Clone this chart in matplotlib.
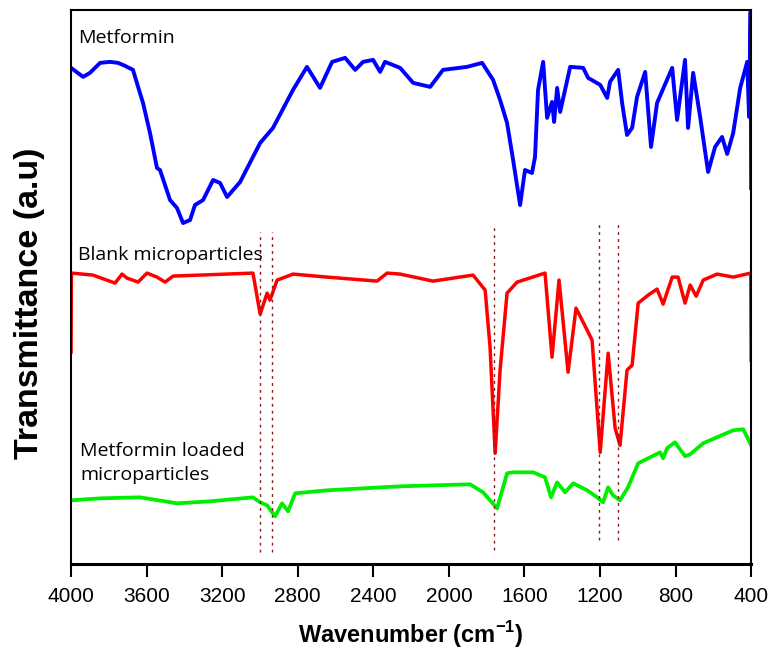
import matplotlib
matplotlib.use("Agg")
from matplotlib import pyplot as plt

# --- Data (wavenumber in cm-1, transmittance a.u.) ---
metforminWn = [4000, 3936, 3900, 3846, 3794, 3751, 3714, 3672, 3645, 3619,
               3582, 3545, 3529, 3476, 3439, 3407, 3370, 3344, 3301, 3248,
               3211, 3174, 3105, 2999, 2931, 2825, 2751, 2682, 2618, 2549,
               2496, 2454, 2401, 2364, 2338, 2258, 2189, 2099, 2031, 1904,
               1824, 1766, 1729, 1692, 1660, 1623, 1597, 1560, 1544, 1528,
               1501, 1480, 1454, 1443, 1427, 1411, 1358, 1289, 1263, 1199,
               1162, 1147, 1104, 1083, 1057, 1030, 1004, 961, 930, 898,
               818, 792, 750, 734, 707, 670, 628, 591, 554, 527,
               495, 458, 421, 411, 403, 400]
metforminT = [496, 487, 491, 501, 502, 501, 498, 494, 477, 461,
              431, 396, 394, 364, 356, 341, 344, 359, 364, 384,
              381, 367, 382, 421, 436, 474, 497, 476, 502, 506,
              494, 502, 504, 492, 502, 496, 481, 477, 494, 497,
              501, 484, 464, 441, 404, 359, 394, 391, 407, 474,
              502, 446, 462, 442, 476, 452, 497, 496, 486, 479,
              466, 482, 494, 461, 429, 436, 467, 492, 417, 461,
              496, 444, 504, 436, 491, 447, 392, 417, 427, 410,
              431, 476, 502, 447, 552, 376]

blankWn = [4000, 3998, 3884, 3767, 3730, 3704, 3645, 3598, 3545, 3502,
           3460, 3037, 2999, 2962, 2947, 2909, 2825, 2645, 2380, 2327,
           2258, 2084, 1872, 1808, 1782, 1755, 1729, 1692, 1639, 1491,
           1454, 1417, 1369, 1327, 1268, 1242, 1199, 1157, 1120, 1094,
           1057, 1030, 998, 945, 898, 866, 818, 787, 750, 723,
           691, 654, 580, 495, 402, 400]
blankT = [212, 291, 289, 281, 290, 286, 282, 291, 287, 282,
          288, 291, 250, 271, 264, 284, 290, 287, 283, 291,
          290, 283, 289, 274, 217, 111, 194, 271, 282, 291,
          207, 284, 192, 256, 234, 224, 112, 211, 136, 119,
          194, 199, 261, 269, 275, 260, 287, 287, 261, 279,
          268, 284, 290, 287, 291, 204]

loadedWn = [4000, 3846, 3635, 3439, 3264, 3037, 2999, 2962, 2920, 2883,
            2851, 2814, 2645, 2354, 2258, 1888, 1819, 1745, 1692, 1660,
            1554, 1491, 1459, 1427, 1385, 1342, 1268, 1215, 1184, 1157,
            1131, 1094, 1052, 998, 882, 866, 845, 803, 750, 723,
            654, 495, 442, 400]
loadedT = [64, 66, 67, 61, 63, 67, 62, 59, 48, 61,
           53, 71, 74, 77, 78, 80, 72, 56, 91, 92,
           92, 87, 67, 82, 72, 81, 74, 67, 62, 77,
           69, 64, 77, 101, 112, 106, 116, 122, 108, 110,
           121, 134, 135, 119]

# Dotted marker lines: position, bottom, top
markerWn     = [2999, 2936, 1760, 1205, 1104]
markerBottom = [12, 12, 14, 24, 24]
markerTop    = [332, 332, 338, 341, 341]

tickValues = [4000, 3600, 3200, 2800, 2400, 2000, 1600, 1200, 800, 400]

# ---------------------------------------------------------
fig = plt.figure(figsize=(7.72, 6.54), dpi=100)
ax = fig.add_axes([0.092, 0.137, 0.881, 0.848])

ax.plot(metforminWn, metforminT, color="#0000FF", lw=2.8, solid_joinstyle="round")
ax.plot(blankWn, blankT, color="#FF0000", lw=2.5, solid_joinstyle="round")
ax.plot(loadedWn, loadedT, color="#00EE00", lw=2.7, solid_joinstyle="round")

for wn, lo, hi in zip(markerWn, markerBottom, markerTop):
    ax.plot([wn, wn], [lo, hi], color="#8B1A1A", lw=1.0, ls=(0, (2, 3)))

labelFont = {"family": ["Open Sans", "DejaVu Sans"], "size": 14}
ax.text(3963, 526, "Metformin", va="center", ha="left", **labelFont)
ax.text(3963, 309, "Blank microparticles", va="center", ha="left", **labelFont)
ax.text(3952, 101, "Metformin loaded\nmicroparticles", va="center", ha="left",
        linespacing=1.4, **labelFont)

ax.set_xlim(4000, 400)
ax.set_ylim(0, 554)
ax.set_xticks(tickValues)
ax.set_xticklabels([str(v) for v in tickValues],
                   fontdict={"family": ["Liberation Sans", "DejaVu Sans"], "size": 15})
ax.set_yticks([])
ax.tick_params(axis="x", direction="out", length=9, width=1.5, pad=7)

for side in ["left", "right", "top"]:
    ax.spines[side].set_linewidth(1.5)
ax.spines["bottom"].set_linewidth(2.2)

ax.set_xlabel("Wavenumber (cm$^{\\mathregular{-1}}$)",
              fontdict={"family": ["Liberation Sans", "DejaVu Sans"],
                        "size": 17, "weight": "bold"}, labelpad=10)
ax.set_ylabel("Transmittance (a.u)",
              fontdict={"family": ["Liberation Sans", "DejaVu Sans"],
                        "size": 24.5, "weight": "bold"})
ax.yaxis.set_label_coords(-0.038, 0.47)

fig.savefig("out.png", dpi=100)
